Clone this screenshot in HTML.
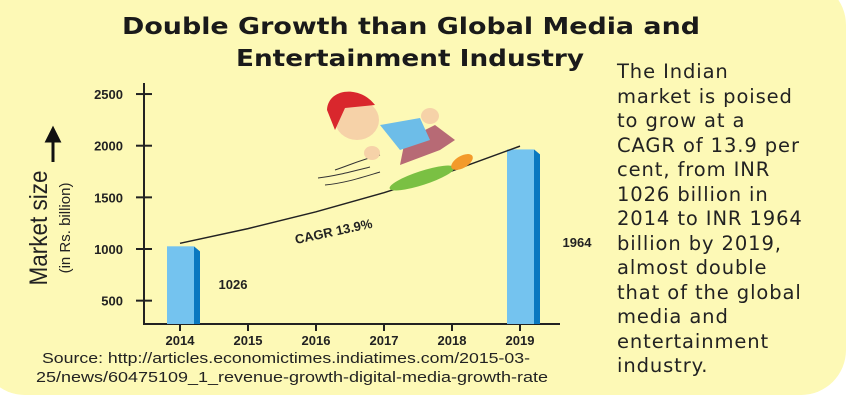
<!DOCTYPE html>
<html><head><meta charset="utf-8"><style>
html,body{margin:0;padding:0;background:#fff;}
#wrap{position:relative;width:850px;height:400px;overflow:hidden;font-family:"Liberation Sans",sans-serif;}
#bg{position:absolute;left:-20px;top:-20px;width:866px;height:415px;background:#fdf9b6;border-radius:45px;}
#side{position:absolute;left:617px;top:60px;width:235px;font-family:"DejaVu Sans",sans-serif;font-size:19.5px;letter-spacing:0.9px;line-height:24.5px;color:#222;white-space:nowrap;}
</style></head><body>
<div id="wrap">
<div id="bg"></div>
<div id="side">The Indian<br>market is poised<br>to grow at a<br>CAGR of 13.9 per<br>cent, from INR<br>1026 billion in<br>2014 to INR 1964<br>billion by 2019,<br>almost double<br>that of the global<br>media and<br>entertainment<br>industry.</div>
<svg id="chart" width="850" height="400" style="position:absolute;left:0;top:0">
<text x="122" y="34" textLength="578" lengthAdjust="spacingAndGlyphs" font-family="DejaVu Sans, sans-serif" font-size="23" font-weight="bold" fill="#1a1a1a">Double Growth than Global Media and</text>
<text x="236" y="66" textLength="348" lengthAdjust="spacingAndGlyphs" font-family="DejaVu Sans, sans-serif" font-size="23" font-weight="bold" fill="#1a1a1a">Entertainment Industry</text>
<g id="axes"></g><g id="marks"></g>
<g>
<text transform="translate(47,228) rotate(-90)" text-anchor="middle" font-size="25" textLength="115" lengthAdjust="spacingAndGlyphs" fill="#222">Market size</text>
<text transform="translate(70,228) rotate(-90)" text-anchor="middle" font-size="15" fill="#222">(in Rs. billion)</text>
</g>
<path d="M53 162 L53 137 M47 141 L53 129 L59 141 Z" stroke="#111" stroke-width="3" fill="#111"/>
<g>
<path d="M335 170 C350 165 360 160 380 155" stroke="#333" fill="none"/>
<path d="M318 178 C335 176 350 172 370 167" stroke="#333" fill="none"/>
<path d="M325 185 C345 183 360 178 380 172" stroke="#333" fill="none"/>
<ellipse cx="422" cy="178" rx="34" ry="7" fill="#7ac043" transform="rotate(-18 422 178)"/>
<ellipse cx="462" cy="162" rx="12" ry="6" fill="#f39a2b" transform="rotate(-30 462 162)"/>
<path d="M400 165 L440 150 L455 140 L435 125 L405 140 Z" fill="#b76a75"/>
<path d="M380 125 L420 118 L430 140 L400 150 Z" fill="#6dbde8"/>
<ellipse cx="357" cy="120" rx="22" ry="20" fill="#f6d2a8"/>
<path d="M327 110 C328 88 360 85 375 105 L345 108 L335 130 Z" fill="#d9272d"/>
<ellipse cx="372" cy="153" rx="8" ry="7" fill="#f6d2a8"/>
<ellipse cx="430" cy="116" rx="9" ry="8" fill="#f6d2a8"/>
</g>
<text x="296" y="244" font-size="13" font-weight="bold" fill="#222" transform="rotate(-12 296 244)">CAGR 13.9%</text>
<text x="42" y="363" textLength="488" lengthAdjust="spacingAndGlyphs" font-size="14.5" fill="#222">Source: http://articles.economictimes.indiatimes.com/2015-03-</text>
<text x="36" y="382" textLength="512" lengthAdjust="spacingAndGlyphs" font-size="14.5" fill="#222">25/news/60475109_1_revenue-growth-digital-media-growth-rate</text>
</svg>
</div>
<script>
const years=["2014","2015","2016","2017","2018","2019"];
const barYears=["2014","2019"];
const barValues=[1026,1964];
const yTicks=[500,1000,1500,2000,2500];
const cagr=0.139;
const NS="http://www.w3.org/2000/svg";
function xs(i){return 180+i*68;}
function ys(v){return 249-(v-1000)*0.1033;}
function mk(tag,attrs,parent){const e=document.createElementNS(NS,tag);for(const k in attrs)e.setAttribute(k,attrs[k]);parent.appendChild(e);return e;}
const ax=document.getElementById('axes'),mg=document.getElementById('marks');
const base=324;
let e=mk('line',{x1:144,y1:83,x2:144,y2:base,stroke:'#222','stroke-width':2},ax);

e=mk('line',{x1:143,y1:base,x2:560,y2:base,stroke:'#222','stroke-width':2},ax);

yTicks.forEach(v=>{const y=ys(v);
 let t=mk('line',{x1:136,y1:y,x2:152,y2:y,stroke:'#222','stroke-width':2},ax);
 
 let l=mk('text',{x:123,y:y+5,'text-anchor':'end','font-size':13,'font-weight':'bold',fill:'#222'},ax);
 l.textContent=v;});
years.forEach((yr,i)=>{const x=xs(i);
 let t=mk('line',{x1:x,y1:base,x2:x,y2:base+7,stroke:'#222','stroke-width':2},ax);
 
 let l=mk('text',{x:x,y:345,'text-anchor':'middle','font-size':13,'font-weight':'bold',fill:'#222'},ax);
 l.textContent=yr;});
barYears.forEach((yr,k)=>{const i=years.indexOf(yr),x=xs(i),v=barValues[k],top=ys(v);
 let b=mk('rect',{x:x-13,y:top,width:27,height:base-top,fill:'#74c3ef'},mg);
 
 let s=mk('path',{d:`M${x+14} ${top} L${x+20} ${top+5} L${x+20} ${base} L${x+14} ${base} Z`,fill:'#0a78c0'},mg);
 
 let l=mk('text',{x:k==0?x+53:x+57,y:k==0?289:247,'text-anchor':'middle','font-size':13,'font-weight':'bold',fill:'#222'},mg);
 l.textContent=v;});
let pts=[];for(let i=0;i<years.length;i++){pts.push(xs(i)+','+(ys(barValues[0]*Math.pow(1+cagr,i))-3));}
const line=mk('polyline',{points:pts.join(' '),fill:'none',stroke:'#222','stroke-width':1.5},mg);


</script>
</body></html>
